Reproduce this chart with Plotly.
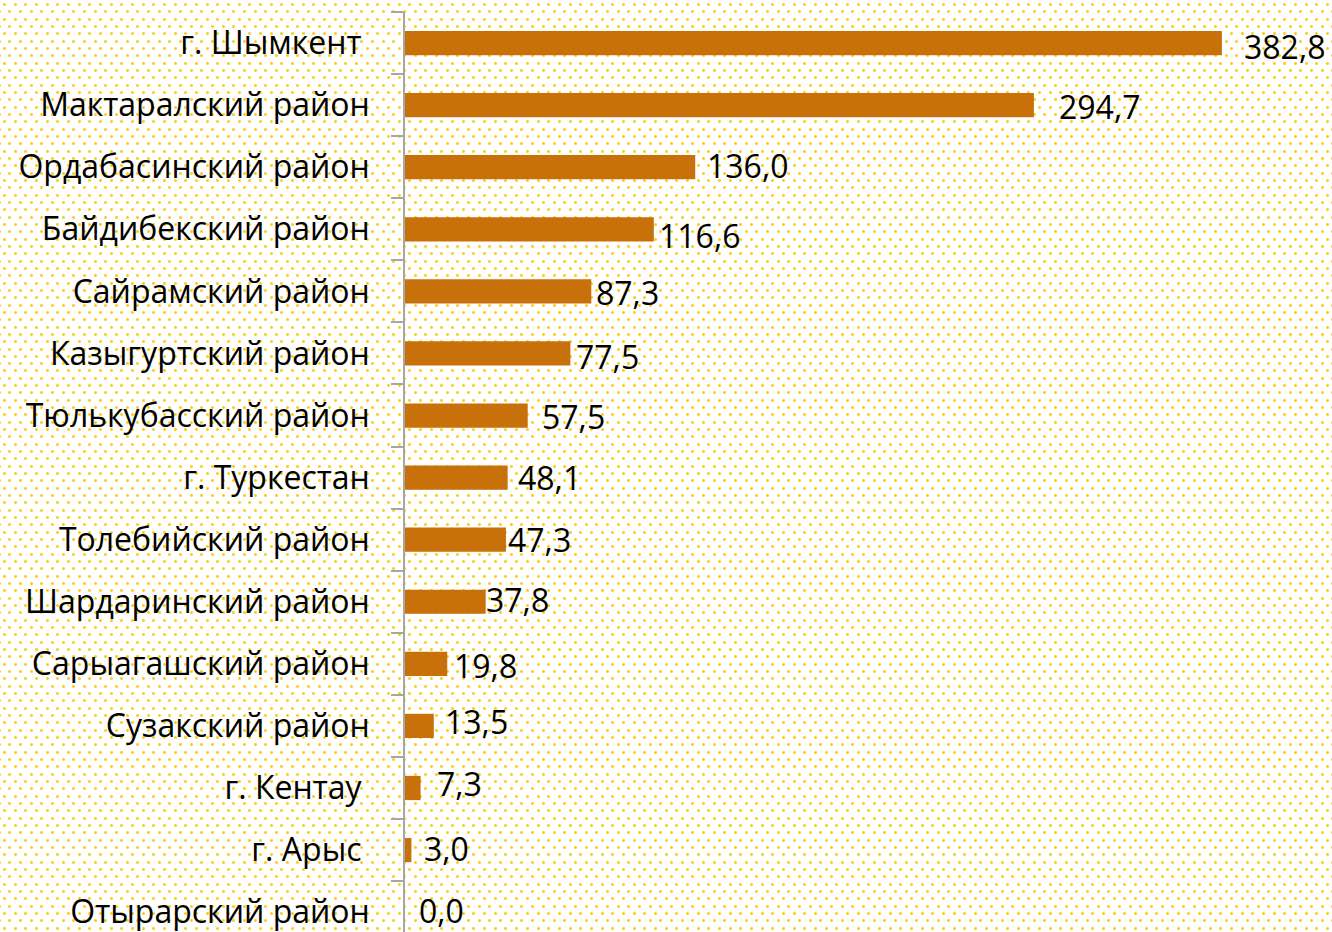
import plotly.graph_objects as go
import zlib, struct, base64

categories = ["г. Шымкент\u00a0", "Мактаралский район", "Ордабасинский район",
              "Байдибекский район", "Сайрамский район", "Казыгуртский район",
              "Тюлькубасский район", "г. Туркестан", "Толебийский район",
              "Шардаринский район", "Сарыагашский район", "Сузакский район",
              "г. Кентау\u00a0", "г. Арыс\u00a0", "Отырарский район"]
values = [382.8, 294.7, 136.0, 116.6, 87.3, 77.5, 57.5, 48.1, 47.3, 37.8, 19.8, 13.5, 7.3, 3.0, 0.0]
value_labels = ["382,8", "294,7", "136,0", "116,6", "87,3", "77,5", "57,5", "48,1",
                "47,3", "37,8", "19,8", "13,5", "7,3", "3,0", "0,0"]
# manual label nudges (pixels) as in the original
label_dx = [20, 23, 10, 3, 3, 4, 12, 8, 0, -2, 5, 9, 14, 11, 12]
label_dy = [3, 1, -2, 6, 1, 3, 1, 0, 0, -2, 2, -4, -5, -2, -2]

W, H = 1332, 932
ML, MR, MT, MB = 405, 0, 12, 0


def make_pattern(w, h):
    bg = (255, 255, 255)
    rows = [bytearray(bytes(bg) * w) for _ in range(h)]

    def put(x, y, c):
        if 0 <= x < w and 0 <= y < h:
            rows[y][3 * x:3 * x + 3] = bytes(c)

    px, py = 10.67, 7.33
    core = (255, 198, 0)
    mid = (255, 208, 40)
    soft = (255, 228, 130)
    r = 0
    y = 4.0
    while y < h + 8:
        off = 0 if r % 2 == 0 else px / 2
        x = 4.0 + off - px
        while x < w + 8:
            cx, cy = int(round(x)), int(round(y))
            for dx in (-1, 1):
                for dy in (-1, 1):
                    put(cx + dx, cy + dy, soft)
            for dx, dy in ((-1, 0), (1, 0), (0, -1), (0, 1)):
                put(cx + dx, cy + dy, mid)
            put(cx, cy, core)
            x += px
        y += py
        r += 1
    raw = b"".join(b"\x00" + bytes(row) for row in rows)

    def chunk(t, d):
        c = struct.pack(">I", len(d)) + t + d
        return c + struct.pack(">I", zlib.crc32(t + d) & 0xffffffff)

    png = b"\x89PNG\r\n\x1a\n" + chunk(b"IHDR", struct.pack(">IIBBBBB", w, h, 8, 2, 0, 0, 0)) \
        + chunk(b"IDAT", zlib.compress(raw, 9)) + chunk(b"IEND", b"")
    return "data:image/png;base64," + base64.b64encode(png).decode()


pw, ph = W - ML - MR, H - MT - MB
px_per_unit = 2.134
xmax = pw / px_per_unit
cat_px = 62.08
ymax = -0.5 + ph / cat_px

fig = go.Figure()
fig.add_trace(go.Bar(
    x=values, y=categories, orientation="h",
    marker=dict(color="#C8700A", line=dict(width=0)),
    width=0.39, showlegend=False, hoverinfo="skip"))

for v, c, t, dx, dy in zip(values, categories, value_labels, label_dx, label_dy):
    fig.add_annotation(x=v, y=c, text=t, showarrow=False, xanchor="left", yanchor="middle",
                       xshift=dx, yshift=-dy,
                       font=dict(family="Open Sans", size=32, color="#000000"))

fig.add_layout_image(dict(
    source=make_pattern(W, H), xref="paper", yref="paper",
    x=-ML / pw, y=1 + MT / ph, sizex=W / pw, sizey=H / ph,
    xanchor="left", yanchor="top", sizing="stretch", layer="below"))

fig.update_layout(
    width=W, height=H,
    margin=dict(l=ML, r=MR, t=MT, b=MB, pad=0),
    paper_bgcolor="rgba(0,0,0,0)", plot_bgcolor="rgba(0,0,0,0)",
    font=dict(family="Open Sans", color="#000000"),
    bargap=0.6,
    xaxis=dict(range=[0, xmax], visible=False, showgrid=False, zeroline=False, fixedrange=True),
    yaxis=dict(type="category", categoryorder="array", categoryarray=categories,
               range=[ymax, -0.5], showgrid=False, zeroline=False,
               showline=True, linecolor="#a6a6a6", linewidth=1.5,
               ticks="outside", tickson="boundaries", ticklen=12, tickcolor="#a6a6a6",
               tickwidth=1.5, ticklabelstandoff=27,
               tickfont=dict(family="Open Sans", size=32, color="#000000")),
)

fig.write_html("out.html", config={"displayModeBar": False},
               post_script="document.body.style.margin='0';document.body.style.padding='0';")
